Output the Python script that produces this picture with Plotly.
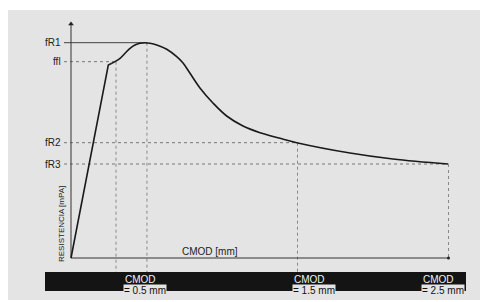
import plotly.graph_objects as go

# ---- data (CMOD in mm, resistance in arbitrary MPa-like units) ----
rise_cmod = [0.0, 0.247, 0.270]
rise_res = [0.0, 4.825, 4.868]

curve_cmod = [0.270, 0.291, 0.325, 0.358, 0.391, 0.424, 0.457, 0.490, 0.523, 0.568,
              0.634, 0.700, 0.742, 0.788, 0.854, 0.940, 1.031, 1.139, 1.252, 1.384,
              1.495, 1.848, 2.132, 2.497]
curve_res = [4.868, 4.908, 4.993, 5.118, 5.243, 5.325, 5.368, 5.383, 5.368, 5.325,
             5.218, 5.033, 4.875, 4.618, 4.25, 3.875, 3.55, 3.3, 3.133, 2.993,
             2.883, 2.625, 2.475, 2.35]

ref_labels = ["fR1", "ffl", "fR2", "fR3"]
ref_values = [5.383, 4.908, 2.883, 2.35]
ref_cmod = [0.503, 0.298, 1.5, 2.5]

band_labels = ["= 0.5 mm", "= 1.5 mm", "= 2.5 mm"]
band_cmod = [0.5, 1.5, 2.5]

# ---- figure geometry (page body has an 8px margin) ----
OFF = 8
PXX = 151.0   # px per mm
PXY = 40.0    # px per unit
X0, Y0 = 71, 258
W, H = 488, 302

def xd(px):
    return (px - X0) / PXX

def yd(py):
    return (Y0 - py) / PXY

fig = go.Figure()
FONT = "Liberation Sans, Arial, sans-serif"
band_top = yd(272)

# reference horizontal & vertical guide lines
for lab, v, c in zip(ref_labels, ref_values, ref_cmod):
    solid = lab == "fR1"
    fig.add_trace(go.Scatter(x=[xd(64), c], y=[v, v], mode="lines",
                             line=dict(color="#444" if solid else "#777", width=1,
                                       dash="solid" if solid else "dot"),
                             hoverinfo="skip", showlegend=False))
    ybot = 0 if c >= 2.5 else band_top
    fig.add_trace(go.Scatter(x=[c, c], y=[v, ybot], mode="lines",
                             line=dict(color="#888", width=1, dash="dot"),
                             hoverinfo="skip", showlegend=False))
    fig.add_annotation(x=xd(63), y=v, text=lab, showarrow=False, xanchor="right",
                       yanchor="middle", font=dict(family=FONT, size=10, color="#222"))

# axes
fig.add_trace(go.Scatter(x=[0, 0], y=[0, yd(25)], mode="lines",
                         line=dict(color="#333", width=1), hoverinfo="skip", showlegend=False))
fig.add_trace(go.Scatter(x=[0], y=[yd(24)], mode="markers",
                         marker=dict(symbol="triangle-up", size=5, color="#222"),
                         hoverinfo="skip", showlegend=False))
fig.add_trace(go.Scatter(x=[0, 2.5], y=[0, 0], mode="lines",
                         line=dict(color="#333", width=1), hoverinfo="skip", showlegend=False))
fig.add_trace(go.Scatter(x=[2.5], y=[0], mode="markers",
                         marker=dict(symbol="circle", size=3, color="#222"),
                         hoverinfo="skip", showlegend=False))

# curve
fig.add_trace(go.Scatter(x=rise_cmod, y=rise_res, mode="lines",
                         line=dict(color="#1a1a1a", width=1.6),
                         hoverinfo="skip", showlegend=False))
fig.add_trace(go.Scatter(x=curve_cmod, y=curve_res, mode="lines",
                         line=dict(color="#1a1a1a", width=1.6, shape="spline", smoothing=1.0),
                         hoverinfo="skip", showlegend=False))

# axis titles
fig.add_annotation(x=xd(210), y=yd(251), text="CMOD [mm]", showarrow=False,
                   font=dict(family=FONT, size=10, color="#222"))
fig.add_annotation(x=xd(61), y=yd(224), text="RESISTENCIA [mPA]", showarrow=False,
                   textangle=-90, font=dict(family=FONT, size=8, color="#222"))

# background & black band
shapes = [
    dict(type="rect", xref="x", yref="y", x0=xd(6), x1=xd(W), y0=yd(300), y1=yd(10),
         fillcolor="#e4e4e4", line=dict(width=0), layer="below"),
    dict(type="rect", xref="x", yref="y", x0=xd(45), x1=xd(466), y0=yd(272), y1=yd(291),
         fillcolor="#141414", line=dict(width=0), layer="below"),
]
for lab, c, pxl in zip(band_labels, band_cmod, [123, 292, 421]):
    fig.add_annotation(x=xd(pxl), y=yd(279), text="CMOD", showarrow=False,
                       xanchor="left", yanchor="middle",
                       font=dict(family=FONT, size=10, color="#f2f2f2"))
    fig.add_annotation(x=xd(pxl), y=yd(290.5), text=lab, showarrow=False,
                       xanchor="left", yanchor="middle", bgcolor="#e4e4e4", borderpad=0,
                       font=dict(family=FONT, size=10, color="#111"))

fig.update_layout(
    width=W - OFF, height=H - OFF, margin=dict(l=0, r=0, t=0, b=0),
    paper_bgcolor="white", plot_bgcolor="rgba(0,0,0,0)",
    shapes=shapes, showlegend=False,
    xaxis=dict(range=[xd(OFF), xd(W)], visible=False, fixedrange=True),
    yaxis=dict(range=[yd(H), yd(OFF)], visible=False, fixedrange=True),
)

fig.write_html("out.html")
